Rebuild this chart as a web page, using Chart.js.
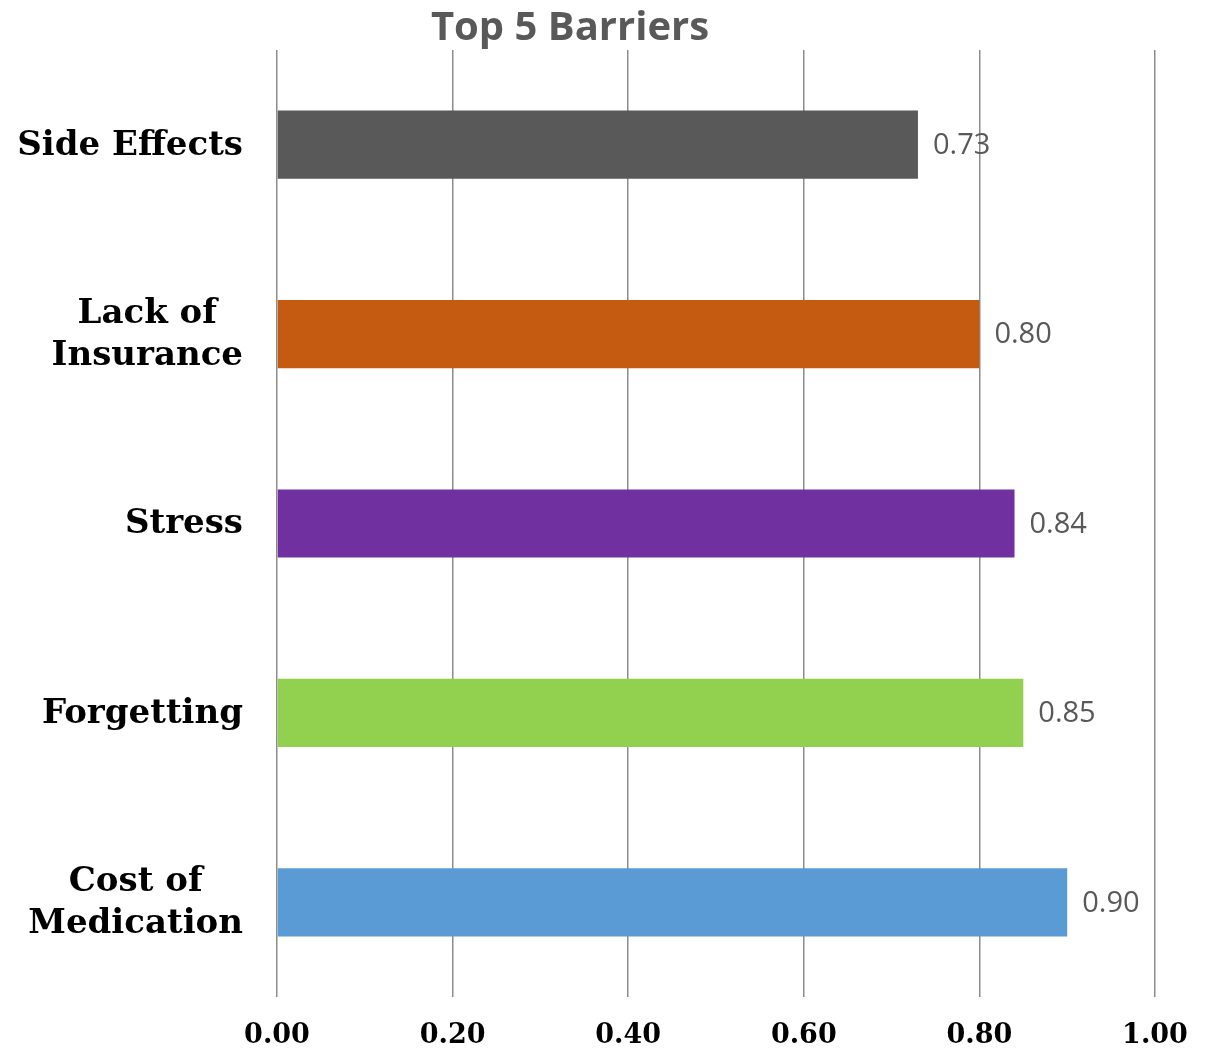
<!DOCTYPE html>
<html>
<head>
<meta charset="utf-8">
<script src="https://cdn.jsdelivr.net/npm/chart.js@4"></script>
<style>
  html, body { margin: 0; padding: 0; background: #fff; }
  #wrap { width: 1209px; height: 1051px; }
</style>
</head>
<body>
<div id="wrap"><canvas id="barriers"></canvas></div>
<script>
const categories = [["Side Effects"], ["Lack of", "Insurance"], ["Stress"], ["Forgetting"], ["Cost of", "Medication"]];
const values = [0.73, 0.80, 0.84, 0.85, 0.90];
const barColors = ["#595959", "#C55A11", "#7030A0", "#92D050", "#5B9BD5"];
const xTicks = [0, 0.2, 0.4, 0.6, 0.8, 1.0];
const chartTitle = "Top 5 Barriers";

// title sits left of center in the original, so draw it by hand
const titlePlugin = {
  id: "titleText",
  afterDraw(chart) {
    const ctx = chart.ctx;
    ctx.save();
    ctx.font = "bold 40px 'Open Sans'";
    ctx.fillStyle = "#595959";
    ctx.textAlign = "center";
    ctx.textBaseline = "middle";
    ctx.fillText(chartTitle, 570, 29);
    ctx.restore();
  }
};

// category labels: block right aligned, lines centered inside the block
const yLabelPlugin = {
  id: "yLabels",
  afterDraw(chart) {
    const ctx = chart.ctx;
    const scale = chart.scales.y;
    ctx.save();
    ctx.font = "bold 34px 'DejaVu Serif'";
    ctx.fillStyle = "#000";
    ctx.textAlign = "center";
    ctx.textBaseline = "middle";
    categories.forEach((lines, i) => {
      const y = scale.getPixelForTick(i) + 1;
      const w = Math.max(...lines.map(l => ctx.measureText(l).width));
      const cx = scale.right - 34 - w / 2;
      lines.forEach((l, j) => {
        ctx.fillText(l, cx, y + (j - (lines.length - 1) / 2) * 42);
      });
    });
    ctx.restore();
  }
};

const valueLabelPlugin = {
  id: "valueLabels",
  afterDatasetsDraw(chart) {
    const ctx = chart.ctx;
    const meta = chart.getDatasetMeta(0);
    ctx.save();
    ctx.font = "29px 'Open Sans'";
    ctx.fillStyle = "#595959";
    ctx.textAlign = "left";
    ctx.textBaseline = "middle";
    meta.data.forEach((bar, i) => {
      ctx.fillText(values[i].toFixed(2), bar.x + 15, bar.y + 1);
    });
    ctx.restore();
  }
};

new Chart(document.getElementById("barriers"), {
  type: "bar",
  data: {
    labels: categories,
    datasets: [
      {
        data: values,
        backgroundColor: barColors,
        borderWidth: 0,
        categoryPercentage: 0.36,
        barPercentage: 1.0
      }
    ]
  },
  options: {
    indexAxis: "y",
    responsive: true,
    maintainAspectRatio: false,
    animation: false,
    layout: { padding: { top: 50, right: 54, left: 0, bottom: 0 } },
    plugins: {
      legend: { display: false },
      title: { display: false },
      tooltip: { enabled: false }
    },
    scales: {
      x: {
        min: xTicks[0],
        max: xTicks[xTicks.length - 1],
        border: { display: false },
        grid: { color: "#8c8c8c", lineWidth: 1.5, drawTicks: false },
        ticks: {
          stepSize: xTicks[1] - xTicks[0],
          padding: 23,
          color: "#000",
          font: { family: "'DejaVu Serif'", size: 27, weight: "bold" },
          callback: (v) => Number(v).toFixed(2)
        },
        afterFit: (s) => { s.height = 54; s.paddingLeft = 0; s.paddingRight = 0; }
      },
      y: {
        border: { display: false },
        grid: { display: false },
        ticks: { display: false },
        afterFit: (s) => { s.width = 277; }
      }
    }
  },
  plugins: [titlePlugin, yLabelPlugin, valueLabelPlugin]
});
</script>
</body>
</html>
